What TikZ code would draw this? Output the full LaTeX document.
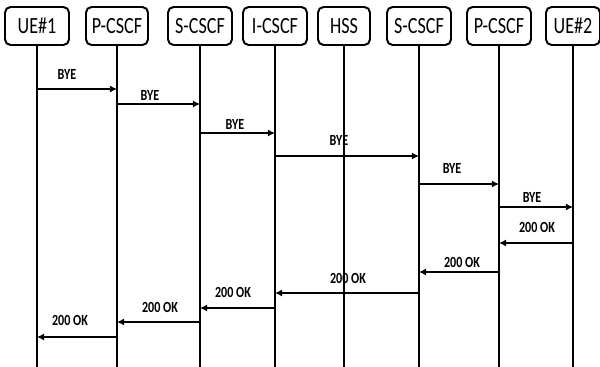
\documentclass[tikz,border=0pt]{standalone}
\usepackage{fontspec}
\setmainfont{Carlito}
\newfontfamily\boxfont[FakeStretch=0.78]{Carlito}
\usetikzlibrary{arrows.meta, positioning}

\tikzset{
  entity/.style={draw, line width=1.4pt, rounded corners=4pt, minimum height=0.95cm,
                 inner sep=0pt, font=\boxfont\fontsize{16.5}{19}\selectfont},
  lifeline/.style={line width=1.2pt},
  msg/.style={line width=1.5pt, -{Latex[length=5pt,width=5pt]}},
  msglabel/.style={font=\boxfont\bfseries\fontsize{11}{13}\selectfont, inner sep=0pt},
}

\begin{document}
\begin{tikzpicture}[x=0.025cm, y=-0.025cm]
\useasboundingbox (0,0) rectangle (600,367);
% entities and their lifelines
\foreach \n/\x/\w/\t in {ue1/37/1.6/UE\#1, pcscfA/117/1.55/P-CSCF, scscfA/200/1.6/S-CSCF,
                         icscf/275/1.6/I-CSCF, hss/344/1.3/HSS, scscfB/419/1.6/S-CSCF,
                         pcscfB/499/1.6/P-CSCF, ue2/573/1.35/UE\#2}{
  \node[entity, minimum width=\w cm] (\n) at (\x,26) {\t};
  \draw[lifeline] (\n.south) -- (\n.south |- 0,367);
}
% BYE goes right, 200 OK comes back
\foreach \i/\a/\b/\y/\lx/\ly/\m in {1/ue1/pcscfA/89/67/74/BYE, 2/pcscfA/scscfA/104/150/95/BYE,
    3/scscfA/icscf/133/235/124/BYE, 4/icscf/scscfB/156/339/140/BYE,
    5/scscfB/pcscfB/184/452/168/BYE, 6/pcscfB/ue2/207/532/197/BYE,
    7/ue2/pcscfB/243/537/227/200 OK, 8/pcscfB/scscfB/272/462/262/200 OK,
    9/scscfB/icscf/293/348/278/200 OK, 10/icscf/scscfA/308/233/292/200 OK,
    11/scscfA/pcscfA/322/160/307/200 OK, 12/pcscfA/ue1/337/70/320/200 OK}{
  \coordinate (s\i) at (\a |- 0,\y);
  \coordinate (e\i) at (\b |- 0,\y);
  \draw[msg] (s\i) -- (e\i);
  \node[msglabel] (lbl\i) at (\lx,\ly) {\m};
}
\end{tikzpicture}
\end{document}
